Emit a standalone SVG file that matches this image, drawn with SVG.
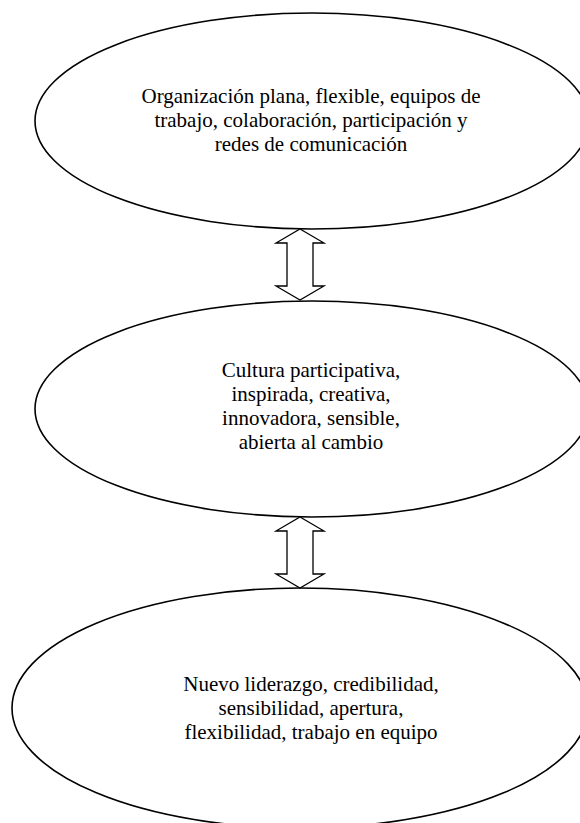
<svg xmlns="http://www.w3.org/2000/svg" width="580" height="823" viewBox="0 0 580 823">
<style>
.node{fill:#fff;stroke:#000;stroke-width:1.6}
.lbl{font-family:'Liberation Serif','DejaVu Serif','Times New Roman',Times,serif;font-size:21px;fill:#000;text-anchor:middle}
.arr{fill:#fff;stroke:#000;stroke-width:1.3;stroke-linejoin:miter}
</style>
<rect width="580" height="823" fill="#fff"/>
<g id="node1">
<ellipse class="node" cx="312" cy="121" rx="277" ry="108"/>
<text class="lbl" font-family="Liberation Serif, serif" x="311" y="103">Organización plana, flexible, equipos de</text>
<text class="lbl" font-family="Liberation Serif, serif" x="311" y="127">trabajo, colaboración, participación y</text>
<text class="lbl" font-family="Liberation Serif, serif" x="311" y="151">redes de comunicación</text>
</g>
<g id="node2">
<ellipse class="node" cx="312" cy="409" rx="277" ry="108"/>
<text class="lbl" font-family="Liberation Serif, serif" x="311" y="377">Cultura participativa,</text>
<text class="lbl" font-family="Liberation Serif, serif" x="311" y="401">inspirada, creativa,</text>
<text class="lbl" font-family="Liberation Serif, serif" x="311" y="425">innovadora, sensible,</text>
<text class="lbl" font-family="Liberation Serif, serif" x="311" y="449">abierta al cambio</text>
</g>
<g id="node3">
<ellipse class="node" cx="300" cy="708" rx="288" ry="120"/>
<text class="lbl" font-family="Liberation Serif, serif" x="311" y="691">Nuevo liderazgo, credibilidad,</text>
<text class="lbl" font-family="Liberation Serif, serif" x="311" y="715">sensibilidad, apertura,</text>
<text class="lbl" font-family="Liberation Serif, serif" x="311" y="739">flexibilidad, trabajo en equipo</text>
</g>
<g id="connectors">
<polygon class="arr" points="300,229 324,243 313,243 313,286 324,286 300,300 276,286 287,286 287,243 276,243"/>
<polygon class="arr" points="300,517 324,531 313,531 313,574 324,574 300,588 276,574 287,574 287,531 276,531"/>
</g>
</svg>
